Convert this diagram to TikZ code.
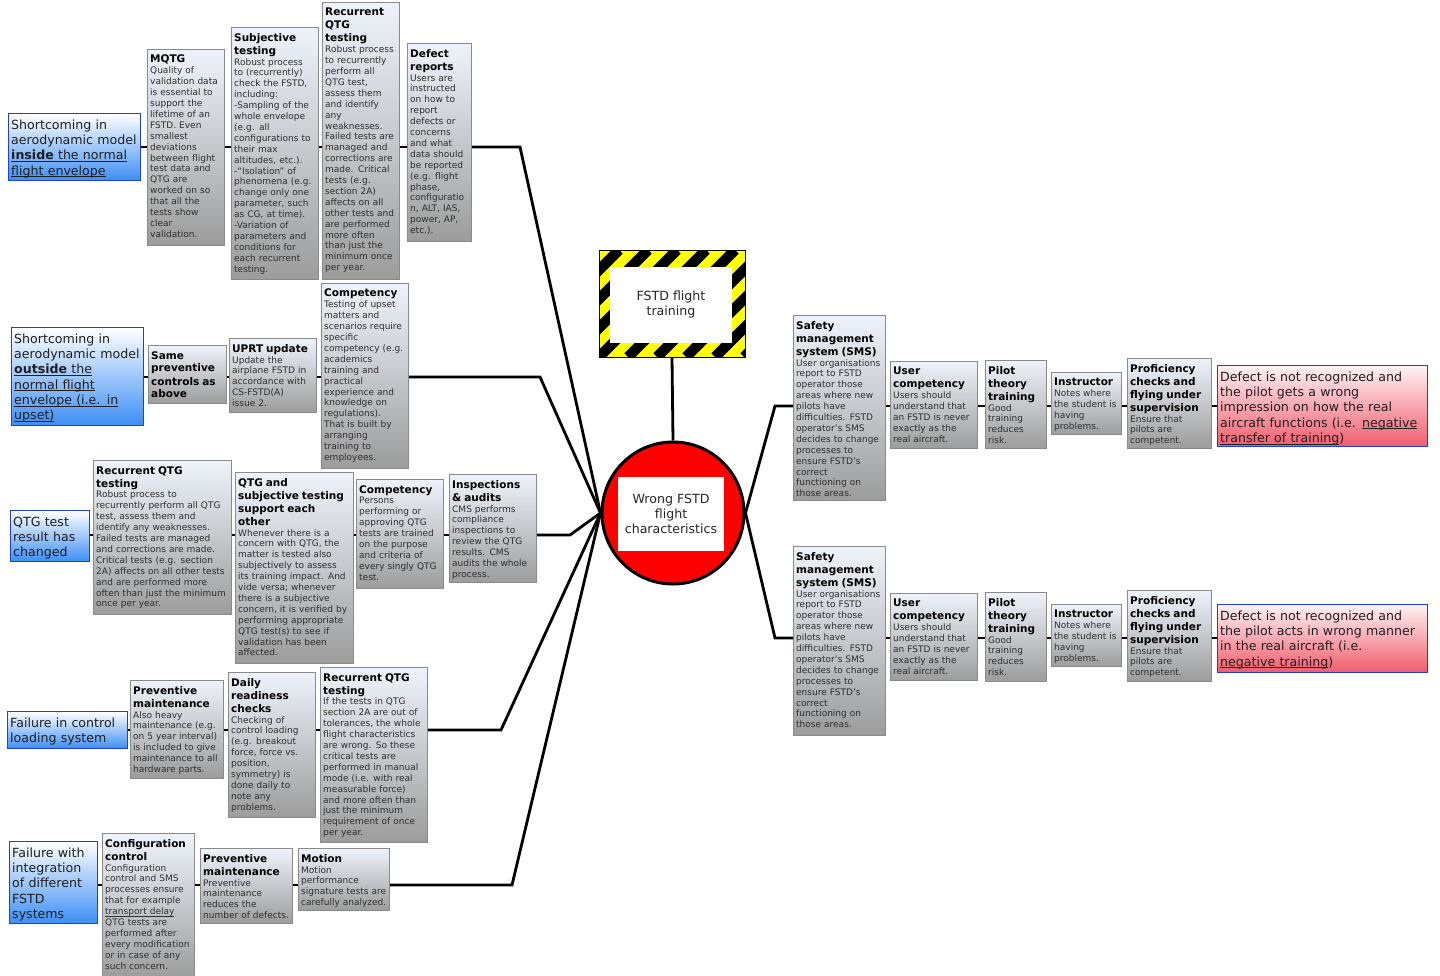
\documentclass[tikz,border=0pt]{standalone}
\usepackage{fontspec}
\setmainfont{DejaVu Sans}
\definecolor{gtop}{HTML}{EEF3FB}
\definecolor{gbot}{HTML}{9C9C9C}
\definecolor{gbord}{HTML}{8A8A8A}
\definecolor{tbot}{HTML}{3D8EF5}
\definecolor{tbord}{HTML}{1F3FD8}
\definecolor{ctop}{HTML}{FFF2F4}
\definecolor{cbot}{HTML}{F05C6C}
\definecolor{hazy}{HTML}{FFFF00}
\definecolor{btext}{HTML}{2E2E2E}
\tikzset{
  gbox/.style={draw=gbord, line width=1.1pt, top color=gtop, bottom color=gbot, inner sep=0pt, anchor=north west},
  tbox/.style={draw=tbord, line width=1.3pt, top color=white, bottom color=tbot, inner sep=0pt, anchor=north west},
  cbox/.style={draw=tbord, line width=1.3pt, top color=ctop, bottom color=cbot, inner sep=0pt, anchor=north west},
  txt/.style={anchor=north west, inner xsep=3pt, inner ysep=6pt, align=left, text width=220pt, font=\fontsize{9}{10.9}\selectfont, text=btext},
  ttxt/.style={anchor=north west, inner xsep=3pt, inner ysep=6.5pt, align=left, text width=220pt, font=\fontsize{12.6}{15.3}\selectfont, text=black!88},
  conn/.style={line width=2.8pt, black},
}
\newcommand\ttl[1]{{\fontsize{10.5}{13}\selectfont\bfseries\color{black}#1\par}}
\newcommand\ulx[1]{\leavevmode\setbox0\hbox{#1}\rlap{\rule[-0.17em]{\wd0}{0.075em}}\box0}
\newcommand\gb[6]{\node[gbox, minimum width={#4-#2}, minimum height={#5-#3}] (#1) at (#2,#3) {};
  \node[txt] (#1t) at (#1.north west) {#6};}
\newcommand\tb[6]{\node[tbox, minimum width={#4-#2}, minimum height={#5-#3}] (#1) at (#2,#3) {};
  \node[ttxt] (#1t) at (#1.north west) {#6};}
\newcommand\cb[6]{\node[cbox, minimum width={#4-#2}, minimum height={#5-#3}] (#1) at (#2,#3) {};
  \node[ttxt] (#1t) at (#1.north west) {#6};}
\begin{document}
\begin{tikzpicture}[x=1pt,y=-1pt]
\useasboundingbox (0,0) rectangle (1440,975);
\fill[white] (0,0) rectangle (1440,975);

% bend coordinates
\coordinate (b1) at (520,147);
\coordinate (b2) at (540,377);
\coordinate (b3) at (570,535);
\coordinate (b4) at (501,730);
\coordinate (b5) at (512,885);
\coordinate (b6) at (775,406);
\coordinate (b7) at (775,638);

% central event
\node[circle, draw=black, line width=3pt, fill=red, minimum size=142pt, inner sep=0pt] (circ) at (673,513) {};
\node[fill=white, minimum width=106pt, minimum height=74pt, inner sep=0pt, align=center, font=\fontsize{12.6}{15}\selectfont, text=black!85] (topev) at (671,514) {Wrong FSTD\\flight\\characteristics};

% hazard
\begin{scope}
\clip (599,250) rectangle (745,357);
\fill[hazy] (599,250) rectangle (745,357);
\foreach \k in {-5,...,6} \draw[line width=10.3pt] ({599+\k*29},357) -- ++(107,-107);
\end{scope}
\node[draw=black, line width=0.8pt, minimum width=146pt, minimum height=107pt, inner sep=0pt] (haz) at (672,303.5) {};
\node[fill=white, minimum width=122pt, minimum height=76pt, inner sep=0pt, align=center, font=\fontsize{12.6}{15}\selectfont, text=black!85] (hazt) at (671,305) {FSTD flight\\training};
\draw[conn] (haz.south) -- (circ.north);

% ---------- Row 1 ----------
\tb{t1}{8}{113}{140}{180}{Shortcoming in\\aerodynamic model\\\ulx{\textbf{inside} the normal}\\\ulx{flight envelope}}
\gb{mqtg}{147}{49}{224}{245}{\ttl{MQTG}Quality of\\validation data\\is essential to\\support the\\lifetime of an\\FSTD. Even\\smallest\\deviations\\between flight\\test data and\\QTG are\\worked on so\\that all the\\tests show\\clear\\validation.}
\gb{subj}{231}{27}{318}{279}{\ttl{Subjective\\testing}Robust process\\to (recurrently)\\check the FSTD,\\including:\\-Sampling of the\\whole envelope\\(e.g. all\\configurations to\\their max\\altitudes, etc.).\\-“Isolation” of\\phenomena (e.g.\\change only one\\parameter, such\\as CG, at time).\\-Variation of\\parameters and\\conditions for\\each recurrent\\testing.}
\gb{rq1}{322}{2}{399}{279}{\ttl{Recurrent\\QTG\\testing}Robust process\\to recurrently\\perform all\\QTG test,\\assess them\\and identify\\any\\weaknesses.\\Failed tests are\\managed and\\corrections are\\made. Critical\\tests (e.g.\\section 2A)\\affects on all\\other tests and\\are performed\\more often\\than just the\\minimum once\\per year.}
\gb{defect}{407}{43}{471}{241}{\ttl{Defect\\reports}Users are\\instructed\\on how to\\report\\defects or\\concerns\\and what\\data should\\be reported\\(e.g. flight\\phase,\\configuratio\\n, ALT, IAS,\\power, AP,\\etc.).}
\draw[conn] (t1.east|-b1) -- (mqtg.west|-b1);
\draw[conn] (mqtg.east|-b1) -- (subj.west|-b1);
\draw[conn] (subj.east|-b1) -- (rq1.west|-b1);
\draw[conn] (rq1.east|-b1) -- (defect.west|-b1);
\draw[conn] (defect.east|-b1) -- (b1) -- (circ.west);

% ---------- Row 2 ----------
\tb{t2}{11}{327}{143}{425}{Shortcoming in\\aerodynamic model\\\ulx{\textbf{outside} the}\\\ulx{normal flight}\\\ulx{envelope (i.e. in}\\\ulx{upset)}}
\gb{same}{148}{345}{226}{403}{\ttl{Same\\preventive\\controls as\\above}}
\gb{uprt}{229}{338}{316}{412}{\ttl{UPRT update}Update the\\airplane FSTD in\\accordance with\\CS-FSTD(A)\\issue 2.}
\gb{comp2}{321}{283}{408}{468}{\ttl{Competency}Testing of upset\\matters and\\scenarios require\\specific\\competency (e.g.\\academics\\training and\\practical\\experience and\\knowledge on\\regulations).\\That is built by\\arranging\\training to\\employees.}
\draw[conn] (t2.east|-b2) -- (same.west|-b2);
\draw[conn] (same.east|-b2) -- (uprt.west|-b2);
\draw[conn] (uprt.east|-b2) -- (comp2.west|-b2);
\draw[conn] (comp2.east|-b2) -- (b2) -- (circ.west);

% ---------- Row 3 ----------
\tb{t3}{10}{510}{89}{561}{QTG test\\result has\\changed}
\gb{rq3}{93}{460}{231}{614}{\ttl{Recurrent QTG\\testing}Robust process to\\recurrently perform all QTG\\test, assess them and\\identify any weaknesses.\\Failed tests are managed\\and corrections are made.\\Critical tests (e.g. section\\2A) affects on all other tests\\and are performed more\\often than just the minimum\\once per year.}
\gb{qsub}{235}{472}{353}{663}{\ttl{QTG and\\subjective testing\\support each\\other}Whenever there is a\\concern with QTG, the\\matter is tested also\\subjectively to assess\\its training impact. And\\vide versa; whenever\\there is a subjective\\concern, it is verified by\\performing appropriate\\QTG test(s) to see if\\validation has been\\affected.}
\gb{comp3}{356}{479}{443}{588}{\ttl{Competency}Persons\\performing or\\approving QTG\\tests are trained\\on the purpose\\and criteria of\\every singly QTG\\test.}
\gb{insp}{449}{474}{536}{582}{\ttl{Inspections\\\& audits}CMS performs\\compliance\\inspections to\\review the QTG\\results. CMS\\audits the whole\\process.}
\draw[conn] (t3.east|-b3) -- (rq3.west|-b3);
\draw[conn] (rq3.east|-b3) -- (qsub.west|-b3);
\draw[conn] (qsub.east|-b3) -- (comp3.west|-b3);
\draw[conn] (comp3.east|-b3) -- (insp.west|-b3);
\draw[conn] (insp.east|-b3) -- (b3) -- (circ.west);

% ---------- Row 4 ----------
\tb{t4}{7}{711}{127}{748}{Failure in control\\loading system}
\gb{pm4}{130}{680}{223}{778}{\ttl{Preventive\\maintenance}Also heavy\\maintenance (e.g.\\on 5 year interval)\\is included to give\\maintenance to all\\hardware parts.}
\gb{daily}{228}{672}{315}{817}{\ttl{Daily\\readiness\\checks}Checking of\\control loading\\(e.g. breakout\\force, force vs.\\position,\\symmetry) is\\done daily to\\note any\\problems.}
\gb{rq4}{320}{667}{427}{842}{\ttl{Recurrent QTG\\testing}If the tests in QTG\\section 2A are out of\\tolerances, the whole\\flight characteristics\\are wrong. So these\\critical tests are\\performed in manual\\mode (i.e. with real\\measurable force)\\and more often than\\just the minimum\\requirement of once\\per year.}
\draw[conn] (t4.east|-b4) -- (pm4.west|-b4);
\draw[conn] (pm4.east|-b4) -- (daily.west|-b4);
\draw[conn] (daily.east|-b4) -- (rq4.west|-b4);
\draw[conn] (rq4.east|-b4) -- (b4) -- (circ.west);

% ---------- Row 5 ----------
\tb{t5}{9}{841}{97}{923}{Failure with\\integration\\of different\\FSTD\\systems}
\gb{conf}{102}{833}{194}{978}{\ttl{Configuration\\control}Configuration\\control and SMS\\processes ensure\\that for example\\\ulx{transport delay}\\QTG tests are\\performed after\\every modification\\or in case of any\\such concern.}
\gb{pm5}{200}{848}{292}{923}{\ttl{Preventive\\maintenance}Preventive\\maintenance\\reduces the\\number of defects.}
\gb{motion}{298}{848}{389}{910}{\ttl{Motion}Motion\\performance\\signature tests are\\carefully analyzed.}
\draw[conn] (t5.east|-b5) -- (conf.west|-b5);
\draw[conn] (conf.east|-b5) -- (pm5.west|-b5);
\draw[conn] (pm5.east|-b5) -- (motion.west|-b5);
\draw[conn] (motion.east|-b5) -- (b5) -- (circ.west);

% ---------- Right upper ----------
\gb{sms1}{793}{315}{885}{500}{\ttl{Safety\\management\\system (SMS)}User organisations\\report to FSTD\\operator those\\areas where new\\pilots have\\difficulties. FSTD\\operator’s SMS\\decides to change\\processes to\\ensure FSTD’s\\correct\\functioning on\\those areas.}
\gb{uc1}{890}{361}{977}{448}{\ttl{User\\competency}Users should\\understand that\\an FSTD is never\\exactly as the\\real aircraft.}
\gb{pt1}{985}{360}{1046}{448}{\ttl{Pilot\\theory\\training}Good\\training\\reduces\\risk.}
\gb{ins1}{1051}{372}{1121}{434}{\ttl{Instructor}Notes where\\the student is\\having\\problems.}
\gb{prof1}{1127}{358}{1211}{448}{\ttl{Proficiency\\checks and\\flying under\\supervision}Ensure that\\pilots are\\competent.}
\cb{c1}{1217}{365}{1427}{446}{Defect is not recognized and\\the pilot gets a wrong\\impression on how the real\\aircraft functions (i.e. \ulx{negative}\\\ulx{transfer of training})}
\draw[conn] (circ.east) -- (b6) -- (sms1.west|-b6);
\draw[conn] (sms1.east|-b6) -- (uc1.west|-b6);
\draw[conn] (uc1.east|-b6) -- (pt1.west|-b6);
\draw[conn] (pt1.east|-b6) -- (ins1.west|-b6);
\draw[conn] (ins1.east|-b6) -- (prof1.west|-b6);
\draw[conn] (prof1.east|-b6) -- (c1.west|-b6);

% ---------- Right lower ----------
\gb{sms2}{793}{546}{885}{735}{\ttl{Safety\\management\\system (SMS)}User organisations\\report to FSTD\\operator those\\areas where new\\pilots have\\difficulties. FSTD\\operator’s SMS\\decides to change\\processes to\\ensure FSTD’s\\correct\\functioning on\\those areas.}
\gb{uc2}{890}{593}{977}{680}{\ttl{User\\competency}Users should\\understand that\\an FSTD is never\\exactly as the\\real aircraft.}
\gb{pt2}{985}{592}{1046}{681}{\ttl{Pilot\\theory\\training}Good\\training\\reduces\\risk.}
\gb{ins2}{1051}{604}{1121}{666}{\ttl{Instructor}Notes where\\the student is\\having\\problems.}
\gb{prof2}{1127}{590}{1211}{681}{\ttl{Proficiency\\checks and\\flying under\\supervision}Ensure that\\pilots are\\competent.}
\cb{c2}{1217}{604}{1427}{672}{Defect is not recognized and\\the pilot acts in wrong manner\\in the real aircraft (i.e.\\\ulx{negative training})}
\draw[conn] (circ.east) -- (b7) -- (sms2.west|-b7);
\draw[conn] (sms2.east|-b7) -- (uc2.west|-b7);
\draw[conn] (uc2.east|-b7) -- (pt2.west|-b7);
\draw[conn] (pt2.east|-b7) -- (ins2.west|-b7);
\draw[conn] (ins2.east|-b7) -- (prof2.west|-b7);
\draw[conn] (prof2.east|-b7) -- (c2.west|-b7);
\end{tikzpicture}
\end{document}
